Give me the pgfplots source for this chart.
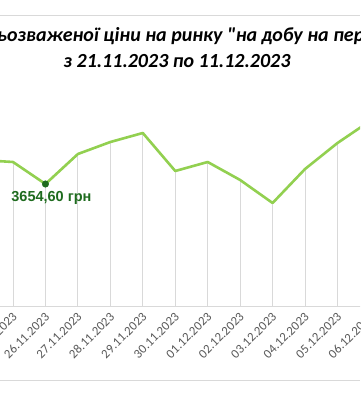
\documentclass[border=0pt]{standalone}
\usepackage{fontspec}
\setmainfont{Carlito}
\newfontfamily\titlefont{Carlito}
\newfontfamily\arialfont{Liberation Sans}
\usepackage{pgfplots}
\pgfplotsset{compat=1.18}
\definecolor{lgreen}{HTML}{92D050}
\definecolor{dgreen}{HTML}{1E6B1E}
\definecolor{gridg}{HTML}{D9D9D9}
\definecolor{lblg}{HTML}{595959}
\pgfplotstableread{
x y
3 3846.6
4 3830.6
5 3654.6
6 3894.6
7 3990.6
8 4062.6
9 3758.6
10 3830.6
11 3686.6
12 3502.6
13 3774.6
14 3982.6
15 4158.6
}\prices
\begin{document}
\begin{tikzpicture}[x=1pt,y=1pt]
\clip (0,0) rectangle (360,400);
\fill[white] (0,0) rectangle (360,400);
\draw[gridg, line width=0.8pt] (0,385) -- (360,385);
\draw[gridg, line width=0.8pt] (0,20) -- (360,20);
\node[anchor=base west, inner sep=0pt, font=\titlefont\bfseries\itshape\fontsize{20}{24}\selectfont] at (-3,358) {ьозваженої ціни на ринку "на добу на перед" (РДН)};
\node[anchor=base east, inner sep=0pt, font=\titlefont\bfseries\itshape\fontsize{20}{24}\selectfont] at (-3,358) {Динаміка середн};
\node[anchor=base, inner sep=0pt, font=\titlefont\bfseries\itshape\fontsize{20}{24}\selectfont] at (177,332) {з 21.11.2023 по 11.12.2023};
\begin{axis}[
  at={(-116.8pt,94pt)}, anchor=south west,
  scale only axis, width=649pt, height=206pt,
  xmin=0, xmax=20, ymin=2678.6, ymax=4326.6,
  hide y axis,
  axis x line=bottom,
  x axis line style={-, draw=gridg, line width=0.8pt},
  xtick={3,...,15},
  xticklabels={24.11.2023,25.11.2023,26.11.2023,27.11.2023,28.11.2023,29.11.2023,30.11.2023,01.12.2023,02.12.2023,03.12.2023,04.12.2023,05.12.2023,06.12.2023},
  xtick style={draw=none},
  xticklabel style={rotate=45, anchor=east, font=\fontsize{12.8}{14}\selectfont, text=lblg, yshift=-6pt},
]
\addplot[ycomb, draw=gridg, line width=0.9pt, mark=none] table[x=x,y=y] {\prices};
\addplot[lgreen, line width=2.6pt, line join=round, mark=none] table[x=x,y=y] {\prices};
\addplot[only marks, mark=*, mark size=3.3pt, color=dgreen,
  nodes near coords={3654,60 грн}, every node near coord/.append style={anchor=north, yshift=-4pt, xshift=6pt, font=\arialfont\bfseries\fontsize{14.5}{16}\selectfont, text=dgreen}]
  coordinates {(5,3654.6)};
\end{axis}
\end{tikzpicture}
\end{document}
